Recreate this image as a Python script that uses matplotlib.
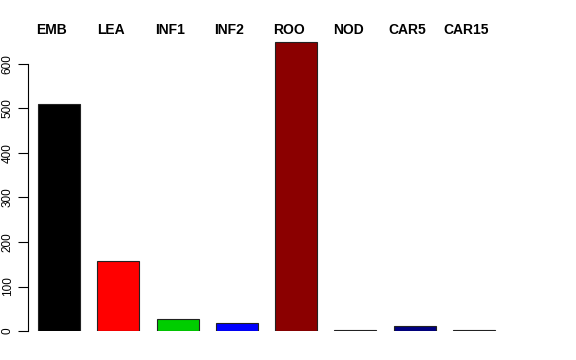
import matplotlib
matplotlib.use("Agg")
import matplotlib.pyplot as plt
import numpy as np

categories = ["EMB", "LEA", "INF1", "INF2", "ROO", "NOD", "CAR5", "CAR15"]
values = [510, 157, 26, 18, 650, 1.5, 11, 1.5]
colors = ["#000000", "#FF0000", "#00CD00", "#0000FF", "#8B0000", "#3A1A3A", "#000080", "#2F4F4F"]
yticks = [0, 100, 200, 300, 400, 500, 600]

plt.rcParams["font.family"] = ["Liberation Sans", "DejaVu Sans"]

W, H = 576, 360
fig = plt.figure(figsize=(W / 100, H / 100), dpi=100)

# axes placed in pixel terms: x from 28 to 560, y from 331 (zero) upward
px_per_unit = (331 - 64) / 600.0
top_val = 700
ax_bottom = 331
ax_top = 331 - top_val * px_per_unit
left_px, right_px = 27.5, 560
ax = fig.add_axes([left_px / W, 1 - ax_bottom / H,
                   (right_px - left_px) / W, (ax_bottom - ax_top) / H])

pitch = 59.3
x = np.arange(len(categories))
bar_w = 42 / pitch
ax.bar(x, values, width=bar_w, color=colors, edgecolor="#222222", linewidth=0.8)

first_center = 59
ax.set_xlim((left_px - first_center) / pitch, (right_px - first_center) / pitch)
ax.set_ylim(0, top_val)

for s in ["top", "right", "bottom"]:
    ax.spines[s].set_visible(False)
ax.spines["left"].set_bounds(0, 600)
ax.spines["left"].set_linewidth(0.8)
ax.set_xticks([])
ax.set_yticks(yticks)
ax.set_yticklabels([str(t) for t in yticks], rotation=90, va="center", fontsize=8.5)
ax.tick_params(axis="y", length=7, width=0.8, pad=3)

# category labels along the top, slightly left of the bars
for i, name in enumerate(categories):
    xc = (first_center + pitch * i - 7.5) / W
    fig.text(xc, 1 - 30 / H, name, ha="center", va="center",
             fontsize=10, fontweight="bold")

fig.savefig("out.png", dpi=100)
